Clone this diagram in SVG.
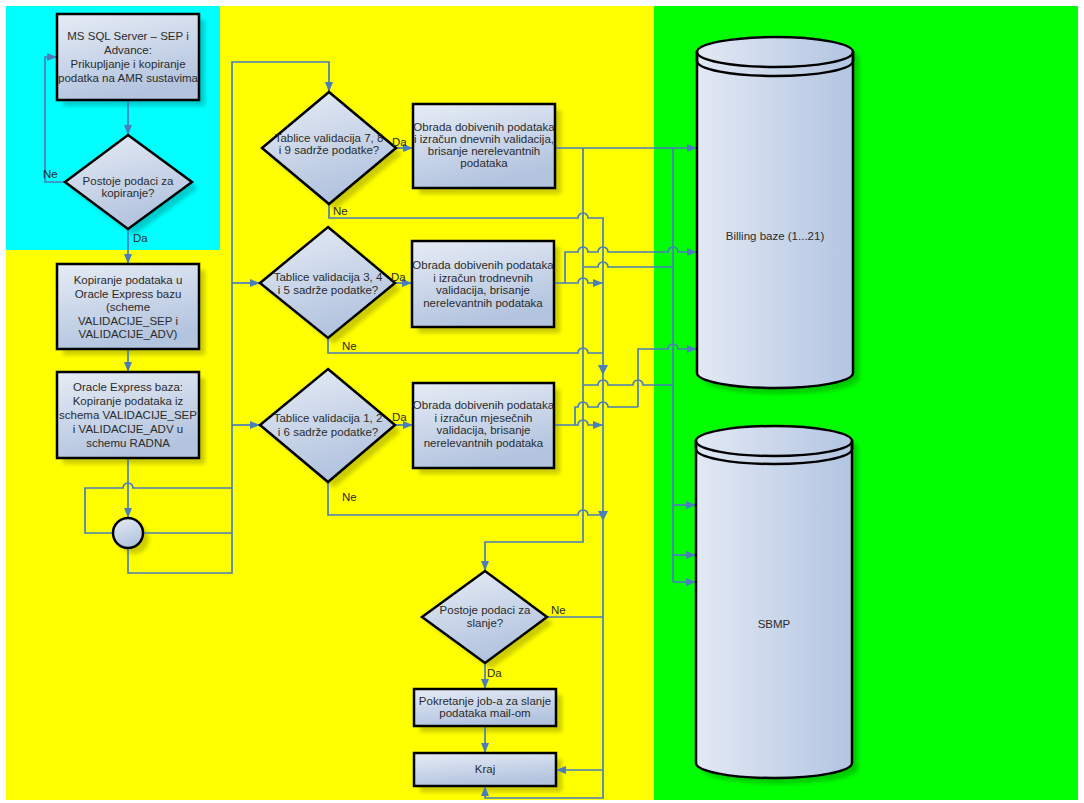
<svg xmlns="http://www.w3.org/2000/svg" width="1084" height="803" viewBox="0 0 1084 803">
<defs>
<linearGradient id="gBox" x1="0" y1="0" x2="0.35" y2="1"><stop offset="0" stop-color="#e6ecf5"/><stop offset="1" stop-color="#b3c4df"/></linearGradient>
<linearGradient id="gCyl" x1="0" y1="0" x2="1" y2="0"><stop offset="0" stop-color="#e2e9f4"/><stop offset="1" stop-color="#b3c5e2"/></linearGradient>
<filter id="blur" x="-10%" y="-10%" width="130%" height="130%"><feGaussianBlur stdDeviation="2"/></filter>
<marker id="arr" viewBox="0 0 10 8" refX="10" refY="4" markerWidth="10" markerHeight="8" markerUnits="userSpaceOnUse" orient="auto"><path d="M0,0 L10,4 L0,8 z" fill="#4a7ebb"/></marker>
</defs>
<style>
.node{fill:url(#gBox);stroke:#000;stroke-width:2.5}
.cyl{fill:url(#gCyl);stroke:#000;stroke-width:2.5}
.lip{fill:none;stroke:#000;stroke-width:2.5}
.shadow{fill:#000;opacity:0.2;filter:url(#blur)}
.t{font-family:"Liberation Sans",Arial,sans-serif;font-size:11.5px;fill:#2b2b2b;text-anchor:middle}
.lbl{font-family:"Liberation Sans",Arial,sans-serif;font-size:11.5px;fill:#2b2b2b}
.c{fill:none;stroke:#4a7ebb;stroke-width:1.7}
.ca{marker-end:url(#arr)}
.ah{fill:#4a7ebb}
</style>
<rect width="1084" height="803" fill="#fff"/>
<g id="background">
<rect x="6" y="6" width="648" height="794" fill="#ffff00"/>
<rect x="654" y="6" width="424" height="794" fill="#00ff00"/>
<rect x="6" y="6" width="214" height="244" fill="#00ffff"/>
</g>
<g id="shadows">
<rect class="shadow" x="63" y="20" width="142" height="86"/>
<polygon class="shadow" points="134,141 198,188 134,235 71,188"/>
<rect class="shadow" x="63" y="270" width="142" height="85"/>
<rect class="shadow" x="63" y="378" width="142" height="86"/>
<circle class="shadow" cx="134" cy="539" r="15"/>
<polygon class="shadow" points="335,98 402,154 335,210 268,154"/>
<rect class="shadow" x="419" y="110" width="142" height="84"/>
<polygon class="shadow" points="334,233 401,289 334,344 266,289"/>
<rect class="shadow" x="418" y="247" width="142" height="86"/>
<polygon class="shadow" points="334,375 401,431 334,488 266,431"/>
<rect class="shadow" x="419" y="389" width="141" height="85"/>
<polygon class="shadow" points="491,577 553,623 491,669 428,623"/>
<rect class="shadow" x="420" y="695" width="142" height="37"/>
<rect class="shadow" x="420" y="759" width="142" height="33"/>
<path class="shadow" d="M703,58 V379 A78,15 0 0 0 859,379 V58 A78,15 0 0 0 703,58 Z"/>
<path class="shadow" d="M702,447 V769 A78,15 0 0 0 858,769 V447 A78,15 0 0 0 702,447 Z"/>
</g>
<g id="connectors">
<path class="c ca" d="M128,100 V135"/>
<path class="c ca" d="M65,182 H45 V57 H57"/>
<path class="c ca" d="M128,229 V264"/>
<path class="c ca" d="M128,349 V372"/>
<path class="c ca" d="M128,458 V518"/>
<path class="c" d="M113,533 H85 V488 H123 A5,5 0 0 1 133,488 H232"/>
<path class="c" d="M143,533 H232"/>
<path class="c ca" d="M128,548 V573 H232 V62 H329 V92"/>
<path class="c ca" d="M232,283 H260"/>
<path class="c ca" d="M232,425 H260"/>
<path class="c ca" d="M396,148 H413"/>
<path class="c ca" d="M395,283 H412"/>
<path class="c ca" d="M395,425 H413"/>
<path class="c ca" d="M555,148 H697"/>
<path class="c ca" d="M583,148 V542 H485 V571"/>
<path class="c" d="M673,148 V582"/>
<path class="c ca" d="M673,505 H696"/>
<path class="c ca" d="M673,555 H696"/>
<path class="c ca" d="M673,582 H696"/>
<path class="c ca" d="M329,204 V218 H578 A5,5 0 0 1 588,218 H603 V798 H485 V786"/>
<path class="c ca" d="M603,770 H556"/>
<path class="c ca" d="M554,283 H578 A5,5 0 0 1 588,283 H603"/>
<path class="c ca" d="M565,283 V252 H578 A5,5 0 0 1 588,252 H598 A5,5 0 0 1 608,252 H668 A5,5 0 0 1 678,252 H697"/>
<path class="c" d="M583,267 H598 A5,5 0 0 1 608,267 H673"/>
<path class="c" d="M328,338 V353 H578 A5,5 0 0 1 588,353 H603"/>
<path class="c ca" d="M638,407 V349 H668 A5,5 0 0 1 678,349 H697"/>
<path class="c" d="M583,385 H598 A5,5 0 0 1 608,385 H633 A5,5 0 0 1 643,385 H673"/>
<path class="c ca" d="M554,425 H578 A5,5 0 0 1 588,425 H603"/>
<path class="c" d="M575,425 V407 H578 A5,5 0 0 1 588,407 H598 A5,5 0 0 1 608,407 H638"/>
<path class="c" d="M328,482 V515 H578 A5,5 0 0 1 588,515 H603"/>
<path class="c" d="M547,617 H603"/>
<path class="c ca" d="M485,663 V689"/>
<path class="c ca" d="M485,726 V753"/>
<polygon class="ah" points="598,365 608,365 603,375"/>
<polygon class="ah" points="598,511 608,511 603,521"/>
</g>
<g id="n-mssql">
<rect class="node" x="57" y="14" width="142" height="86"/>
<text class="t" x="128" y="40">MS SQL Server – SEP i</text>
<text class="t" x="128" y="54">Advance:</text>
<text class="t" x="128" y="68">Prikupljanje i kopiranje</text>
<text class="t" x="128" y="82">podatka na AMR sustavima</text>
</g>
<g id="n-kopiranje-q">
<polygon class="node" points="128,135 192,182 128,229 65,182"/>
<text class="t" x="128" y="185">Postoje podaci za</text>
<text class="t" x="128" y="197">kopiranje?</text>
</g>
<g id="n-kopiranje-oracle">
<rect class="node" x="57" y="264" width="142" height="85"/>
<text class="t" x="128" y="284">Kopiranje podataka u</text>
<text class="t" x="128" y="297.5">Oracle Express bazu</text>
<text class="t" x="128" y="311">(scheme</text>
<text class="t" x="128" y="324.5">VALIDACIJE_SEP i</text>
<text class="t" x="128" y="338">VALIDACIJE_ADV)</text>
</g>
<g id="n-oracle-radna">
<rect class="node" x="57" y="372" width="142" height="86"/>
<text class="t" x="128" y="391">Oracle Express baza:</text>
<text class="t" x="128" y="405">Kopiranje podataka iz</text>
<text class="t" x="128" y="419">schema VALIDACIJE_SEP</text>
<text class="t" x="128" y="433">i VALIDACIJE_ADV u</text>
<text class="t" x="128" y="447">schemu RADNA</text>
</g>
<g id="n-merge">
<circle class="node" cx="128" cy="533" r="15"/>
</g>
<g id="n-q789">
<polygon class="node" points="329,92 396,148 329,204 262,148"/>
<text class="t" x="329" y="142">Tablice validacija 7, 8</text>
<text class="t" x="329" y="154">i 9 sadrže podatke?</text>
</g>
<g id="n-dnevne">
<rect class="node" x="413" y="104" width="142" height="84"/>
<text class="t" x="484" y="131">Obrada dobivenih podataka</text>
<text class="t" x="484" y="143">i izračun dnevnih validacija,</text>
<text class="t" x="484" y="155">brisanje nerelevantnih</text>
<text class="t" x="484" y="167">podataka</text>
</g>
<g id="n-q345">
<polygon class="node" points="328,227 395,283 328,338 260,283"/>
<text class="t" x="328" y="281">Tablice validacija 3, 4</text>
<text class="t" x="328" y="294">i 5 sadrže podatke?</text>
</g>
<g id="n-trodnevne">
<rect class="node" x="412" y="241" width="142" height="86"/>
<text class="t" x="483" y="269">Obrada dobivenih podataka</text>
<text class="t" x="483" y="281.5">i izračun trodnevnih</text>
<text class="t" x="483" y="294">validacija, brisanje</text>
<text class="t" x="483" y="306.5">nerelevantnih podataka</text>
</g>
<g id="n-q126">
<polygon class="node" points="328,369 395,425 328,482 260,425"/>
<text class="t" x="328" y="422">Tablice validacija 1, 2</text>
<text class="t" x="328" y="436">i 6 sadrže podatke?</text>
</g>
<g id="n-mjesecne">
<rect class="node" x="413" y="383" width="141" height="85"/>
<text class="t" x="483.5" y="409">Obrada dobivenih podataka</text>
<text class="t" x="483.5" y="421.5">i izračun mjesečnih</text>
<text class="t" x="483.5" y="434">validacija, brisanje</text>
<text class="t" x="483.5" y="446.5">nerelevantnih podataka</text>
</g>
<g id="n-slanje-q">
<polygon class="node" points="485,571 547,617 485,663 422,617"/>
<text class="t" x="485" y="614">Postoje podaci za</text>
<text class="t" x="485" y="627">slanje?</text>
</g>
<g id="n-job">
<rect class="node" x="414" y="689" width="142" height="37"/>
<text class="t" x="485" y="705">Pokretanje job-a za slanje</text>
<text class="t" x="485" y="717">podataka mail-om</text>
</g>
<g id="n-kraj">
<rect class="node" x="414" y="753" width="142" height="33"/>
<text class="t" x="485" y="773">Kraj</text>
</g>
<g id="n-billing">
<path class="cyl" d="M697,52 V373 A78,15 0 0 0 853,373 V52 Z"/>
<ellipse class="cyl" cx="775" cy="52" rx="78" ry="15"/>
<path class="lip" d="M697,52 V61 A78,15 0 0 0 853,61 V52"/>
<text class="t" x="775" y="240">Billing baze (1...21)</text>
</g>
<g id="n-sbmp">
<path class="cyl" d="M696,441 V763 A78,15 0 0 0 852,763 V441 Z"/>
<ellipse class="cyl" cx="774" cy="441" rx="78" ry="15"/>
<path class="lip" d="M696,441 V449 A78,15 0 0 0 852,449 V441"/>
<text class="t" x="774" y="628">SBMP</text>
</g>
<g id="labels">
<text class="lbl" x="43" y="178">Ne</text>
<text class="lbl" x="133" y="242">Da</text>
<text class="lbl" x="392" y="146">Da</text>
<text class="lbl" x="333" y="215">Ne</text>
<text class="lbl" x="391" y="281">Da</text>
<text class="lbl" x="342" y="350">Ne</text>
<text class="lbl" x="392" y="421">Da</text>
<text class="lbl" x="342" y="501">Ne</text>
<text class="lbl" x="551" y="614">Ne</text>
<text class="lbl" x="487" y="677">Da</text>
</g>
</svg>
